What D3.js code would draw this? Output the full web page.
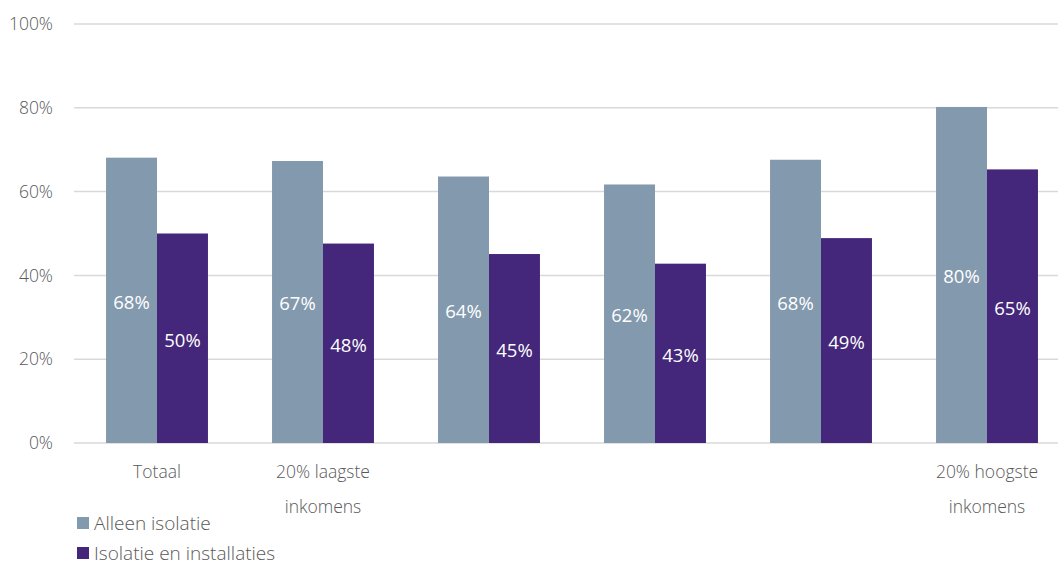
<!DOCTYPE html>
<html>
<head>
<meta charset="utf-8">
<script src="https://cdn.jsdelivr.net/npm/d3@7"></script>
<style>
  body { margin: 0; background: #fff; overflow: hidden; }
  svg text { font-family: "Open Sans", "Noto Sans", sans-serif; font-weight: 300; }
</style>
</head>
<body>
<svg id="chart"></svg>
<script>
// categories (multi-line labels split by \n, blank ones have no label)
const categories = ['Totaal', '20% laagste\ninkomens', '', ' ', '  ', '20% hoogste\ninkomens'];
const seriesNames = ['Alleen isolatie', 'Isolatie en installaties'];
const alleenIsolatie = [68.1, 67.3, 63.6, 61.7, 67.6, 80.2];
const isolatieInstallaties = [50.0, 47.6, 45.1, 42.8, 48.9, 65.3];
const yTicks = [0, 20, 40, 60, 80, 100];
const colors = ['#8399ae', '#44277a'];

const width = 1058, height = 561;
// plot area runs a little past the right edge, like the original
const margin = { top: 24, right: -12, bottom: 118, left: 74 };

const svg = d3.select('#chart').attr('width', width).attr('height', height);
const g = svg.append('g').attr('transform', `translate(${margin.left},${margin.top})`);
const innerW = width - margin.left - margin.right;
const innerH = height - margin.top - margin.bottom;

const x0 = d3.scaleBand().domain(categories).range([0, innerW]).paddingInner(0.386).paddingOuter(0.193);
const x1 = d3.scaleBand().domain(seriesNames).range([0, x0.bandwidth()]);
const y = d3.scaleLinear().domain([0, 100]).range([innerH, 0]);

// gridlines
g.append('g')
  .selectAll('line')
  .data(yTicks)
  .join('line')
  .attr('x1', 0).attr('x2', innerW)
  .attr('y1', d => y(d)).attr('y2', d => y(d))
  .attr('stroke', '#d9d9d9')
  .attr('stroke-width', 1.5);

// y axis labels
const yAxis = d3.axisLeft(y).tickValues(yTicks).tickFormat(d => d + '%').tickSize(0).tickPadding(21);
g.append('g').call(yAxis)
  .call(a => a.select('.domain').remove())
  .selectAll('text')
  .attr('fill', '#595959')
  .attr('font-size', 17.5);

// bars
const rows = categories.map((c, i) => ({ cat: c, vals: [alleenIsolatie[i], isolatieInstallaties[i]] }));
const groups = g.selectAll('.grp').data(rows).join('g')
  .attr('class', 'grp')
  .attr('transform', d => `translate(${x0(d.cat)},0)`);

groups.selectAll('rect')
  .data(d => d.vals.map((v, j) => ({ v, s: seriesNames[j], j })))
  .join('rect')
  .attr('x', d => x1(d.s))
  .attr('y', d => y(d.v))
  .attr('width', x1.bandwidth())
  .attr('height', d => innerH - y(d.v))
  .attr('fill', d => colors[d.j]);

groups.selectAll('text.val')
  .data(d => d.vals.map((v, j) => ({ v, s: seriesNames[j], j })))
  .join('text')
  .attr('class', 'val')
  .attr('x', d => x1(d.s) + x1.bandwidth() / 2)
  .attr('y', d => (y(d.v) + innerH) / 2 + 2)
  .attr('dy', '0.35em')
  .attr('text-anchor', 'middle')
  .attr('fill', '#fff')
  .attr('font-size', 18.5)
  .style('font-weight', 400)
  .text(d => Math.round(d.v) + '%');

// category labels
const catLabels = g.append('g').attr('transform', `translate(0,${innerH})`);
categories.forEach(c => {
  const lines = c.trim() ? c.split('\n') : [];
  const cx = x0(c) + x0.bandwidth() / 2;
  const t = catLabels.append('text')
    .attr('x', cx)
    .attr('y', 35)
    .attr('text-anchor', 'middle')
    .attr('fill', '#595959')
    .attr('font-size', 17.5);
  lines.forEach((l, i) => {
    t.append('tspan').attr('x', cx).attr('dy', i === 0 ? 0 : 35).text(l);
  });
});

// legend
const legend = svg.append('g').attr('transform', 'translate(77,517)');
seriesNames.forEach((s, i) => {
  const row = legend.append('g').attr('transform', `translate(0,${i * 30})`);
  row.append('rect').attr('width', 12).attr('height', 12).attr('fill', colors[i]);
  row.append('text')
    .attr('x', 17).attr('y', 6).attr('dy', '0.35em')
    .attr('fill', '#595959')
    .attr('font-size', 19)
    .text(s);
});
</script>
</body>
</html>
